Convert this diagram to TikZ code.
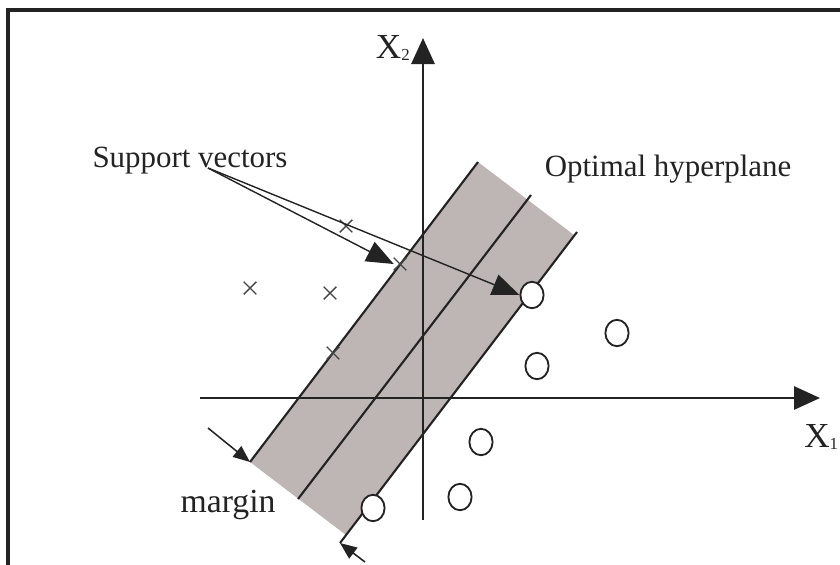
\documentclass[tikz,border=0pt]{standalone}
\usepackage{fontspec}
\setmainfont{Liberation Serif}
\usepackage{xcolor}
\usetikzlibrary{arrows.meta,positioning,shapes.geometric,shapes.misc}

\definecolor{bandgray}{RGB}{190,181,181}
\definecolor{ink}{RGB}{35,35,35}

\newcommand{\axsub}[1]{\raisebox{-1.5pt}{\fontsize{12}{12}\selectfont #1}}

\begin{document}
\begin{tikzpicture}[
  % --- global style (1 unit = 1 pixel of the 840x564 frame) ---
  x=0.25mm, y=-0.25mm,
  every node/.style={font=\fontsize{22}{26}\selectfont, text=ink},
  axislbl/.style={font=\fontsize{25}{28}\selectfont},
  axis/.style={-{Triangle[length=6.5mm,width=5.8mm]}, line width=1.6pt, draw=ink},
  bandline/.style={line width=1.5pt, draw=ink},
  svarr/.style={-{Triangle[length=6.8mm,width=5.4mm]}, line width=1pt, draw=ink},
  marr/.style={-{Triangle[length=4.2mm,width=3.4mm]}, line width=1.1pt, draw=ink},
  negpt/.style={cross out, draw=ink!85, line width=1pt,
    minimum size=2.8mm, inner sep=0pt},
  pospt/.style={ellipse, draw=ink, line width=1.3pt, fill=white,
    minimum width=5.8mm, minimum height=6.6mm, inner sep=0pt},
]

\useasboundingbox (0,0) rectangle (840,564);

% ====== Frame (cut by the page at right and bottom) ======
\draw[line width=2.2pt, draw=ink] (8,580) -- (8,10) -- (860,10);

% ====== Margin band ======
\coordinate (bl) at (250,462);
\coordinate (tl) at (478,162);
\coordinate (tr) at (574,235);
\coordinate (br) at (346,535);
\fill[bandgray] (bl) -- (tl) -- (tr) -- (br) -- cycle;

% ====== Axes ======
\coordinate (xs) at (200,398);
\coordinate (xe) at (820,398);
\coordinate (ys) at (423,520);
\coordinate (ye) at (423,38);
\draw[axis] (xs) -- (xe);
\draw[axis] (ys) -- (ye);

\node[axislbl, anchor=base west, inner sep=0pt] (x1) at (804,447) {X\axsub{1}};
\node[axislbl, anchor=base east, inner sep=0pt] (x2) at (410,58) {X\axsub{2}};

% ====== Hyperplane and margin lines ======
\coordinate (hb) at (298,499);
\coordinate (ht) at (531,195);
\coordinate (rb) at (340,543);
\coordinate (rt) at (577,232);
\draw[bandline] (bl) -- (tl);
\draw[bandline] (hb) -- (ht);
\draw[bandline] (rb) -- (rt);

% ====== Class -1 (crosses) ======
\node[negpt] (n1) at (250,288) {};
\node[negpt] (n2) at (330,293) {};
\node[negpt] (n3) at (346,226) {};
\node[negpt] (n4) at (400,264) {};
\node[negpt] (n5) at (333,353) {};

% ====== Class +1 (circles) ======
\node[pospt] (p1) at (532,295) {};
\node[pospt] (p2) at (617,333) {};
\node[pospt] (p3) at (537,366) {};
\node[pospt] (p4) at (481,442) {};
\node[pospt] (p5) at (460,497) {};
\node[pospt] (p6) at (373,508) {};

% ====== Labels ======
\node[anchor=base, inner sep=0pt] (sv) at (190,167) {Support vectors};
\node[anchor=base, inner sep=0pt] (oh) at (668,176) {Optimal hyperplane};
\node[anchor=base, inner sep=0pt, font=\fontsize{24}{28}\selectfont] (mg) at (228,512) {margin};

% support vector arrows
\coordinate (svs) at (208,168);
\draw[svarr] (svs) -- (n4.west);
\draw[svarr] (svs) -- (p1.west);

% margin arrows
\coordinate (m1) at (208,428);
\coordinate (m2) at (365,562);
\draw[marr] (m1) -- (bl);
\draw[marr] (m2) -- (rb);

\end{tikzpicture}
\end{document}
